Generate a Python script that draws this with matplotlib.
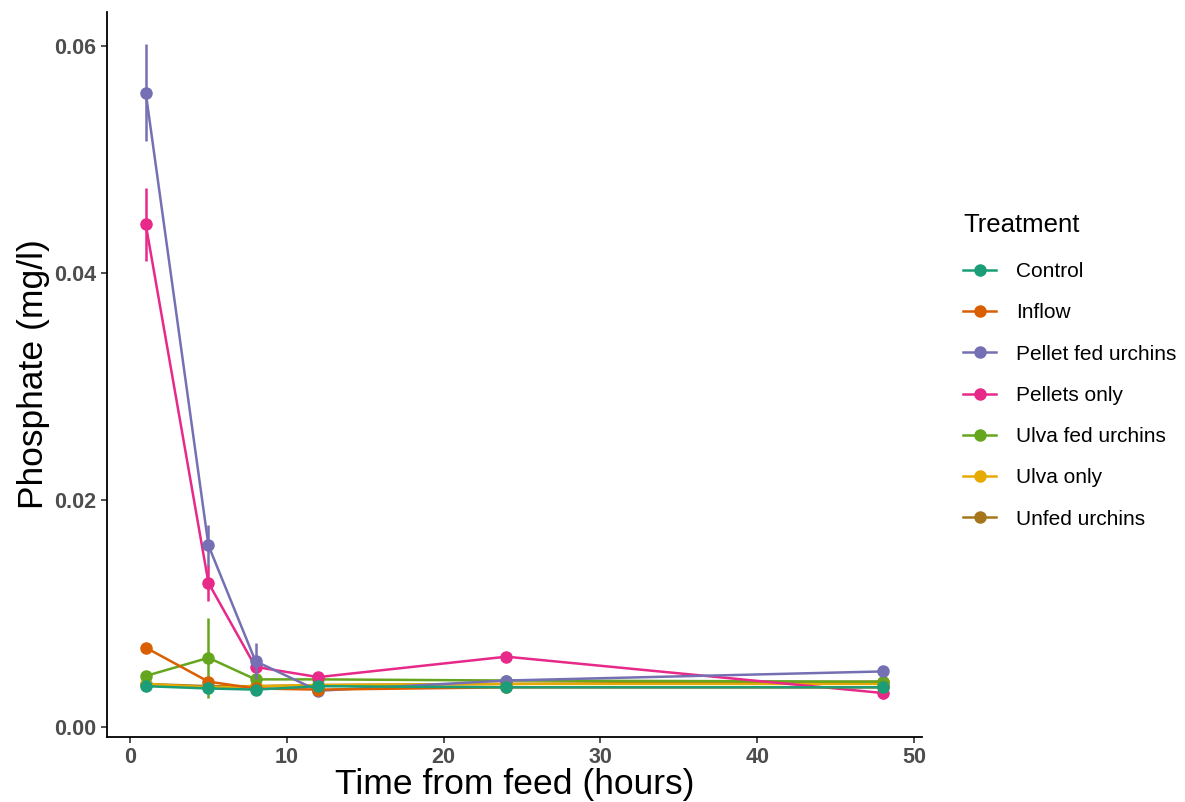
import matplotlib
matplotlib.use('Agg')
import matplotlib.pyplot as plt
from matplotlib.lines import Line2D

plt.rcParams['font.family'] = ['Liberation Sans', 'DejaVu Sans']

# Sampling times (hours after feeding)
hours = [1, 5, 8, 12, 24, 48]

treatments = ['Control', 'Inflow', 'Pellet fed urchins', 'Pellets only',
              'Ulva fed urchins', 'Ulva only', 'Unfed urchins']
colors = ['#1B9E77', '#D95F02', '#7570B3', '#E7298A',
          '#66A61E', '#E6AB02', '#A6761D']

# Mean phosphate (mg/l) per treatment
control = [0.0036, 0.0034, 0.0033, 0.0036, 0.0035, 0.0035]
inflow = [0.0070, 0.0040, 0.0034, 0.0033, 0.0035, 0.0035]
pellet_fed = [0.0559, 0.0160, 0.0058, 0.0032, 0.0041, 0.0049]
pellets_only = [0.0443, 0.0127, 0.0053, 0.0044, 0.0062, 0.0030]
ulva_fed = [0.0045, 0.0061, 0.0042, 0.0042, 0.0041, 0.0040]
ulva_only = [0.0038, 0.0035, 0.0036, 0.0037, 0.0038, 0.0038]
unfed = [0.0038, 0.0036, 0.0036, 0.0037, 0.0038, 0.0040]

# Standard errors
control_se = [0.0002, 0.0002, 0.0001, 0.0001, 0.0001, 0.0001]
inflow_se = [0.0001, 0.0001, 0.0001, 0.0001, 0.0001, 0.0001]
pellet_fed_se = [0.0043, 0.0018, 0.0016, 0.0002, 0.0002, 0.0002]
pellets_only_se = [0.0032, 0.0016, 0.0003, 0.0004, 0.0004, 0.0005]
ulva_fed_se = [0.0004, 0.0035, 0.0002, 0.0002, 0.0001, 0.0001]
ulva_only_se = [0.0001, 0.0001, 0.0001, 0.0001, 0.0001, 0.0001]
unfed_se = [0.0001, 0.0001, 0.0001, 0.0001, 0.0001, 0.0001]

means = [control, inflow, pellet_fed, pellets_only, ulva_fed, ulva_only, unfed]
errors = [control_se, inflow_se, pellet_fed_se, pellets_only_se,
          ulva_fed_se, ulva_only_se, unfed_se]

fig = plt.figure(figsize=(11.85, 8.02), dpi=100)
ax = fig.add_axes([0.0903, 0.081, 0.778 - 0.0903, 0.985 - 0.081])

n = len(treatments)
handles = []
for i, (name, col, m, e) in enumerate(zip(treatments, colors, means, errors)):
    z = 3 + (n - i)
    ax.errorbar(hours, m, yerr=e, color=col, lw=1.8, elinewidth=1.8,
                capsize=0, marker='o', markersize=8, zorder=z)
    handles.append(Line2D([], [], color=col, lw=1.8, marker='o',
                          markersize=8, label=name))

ax.set_xlim(-1.47, 50.5)
ax.set_ylim(-0.00088, 0.063)
ax.set_xticks([0, 10, 20, 30, 40, 50])
ax.set_yticks([0.00, 0.02, 0.04, 0.06])
ax.set_yticklabels(['0.00', '0.02', '0.04', '0.06'])

for side in ('top', 'right'):
    ax.spines[side].set_visible(False)
for side in ('left', 'bottom'):
    ax.spines[side].set_linewidth(1.3)
ax.tick_params(axis='both', length=4.5, width=1.2, color='#333333',
               labelsize=15.5, labelcolor='#4D4D4D', pad=3)
for lab in ax.get_xticklabels() + ax.get_yticklabels():
    lab.set_fontweight('bold')

ax.set_xlabel('Time from feed (hours)', fontsize=25.5, labelpad=0)
ax.set_ylabel('Phosphate (mg/l)', fontsize=25.5, labelpad=3)

leg = fig.legend(handles=handles, title='Treatment', loc='upper left',
                 bbox_to_anchor=(963 / 1185, 1 - 213 / 802),
                 borderaxespad=0, borderpad=0,
                 frameon=False, fontsize=15, title_fontsize=18.5,
                 handlelength=1.6, labelspacing=1.07, handletextpad=0.95)
leg._legend_box.align = 'left'
leg._legend_box.sep = 18
# nudge the key glyphs a little right of the title, as in the reference
for row in leg._legend_handle_box.get_children():
    row.set_offset(lambda w, h, xd, yd, r: (4, 0))

fig.savefig('out.png', dpi=100)
